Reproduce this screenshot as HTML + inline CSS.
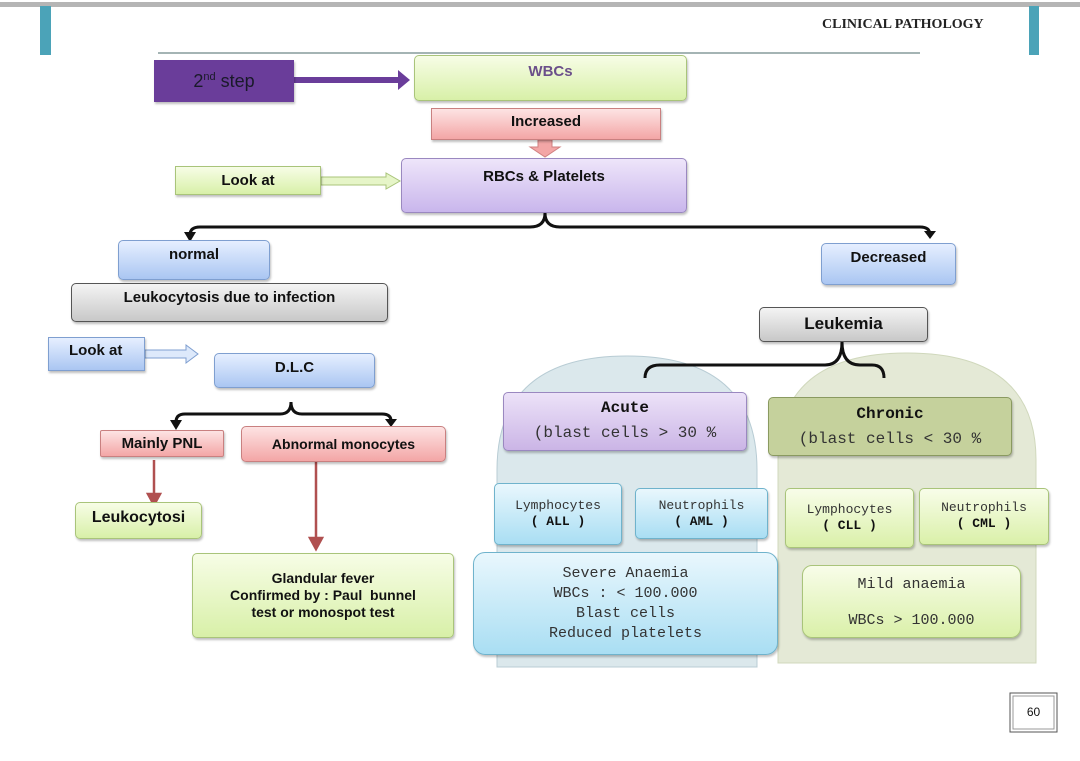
<!DOCTYPE html>
<html><head><meta charset="utf-8"><style>
body{margin:0;width:1080px;height:761px;background:#fff;position:relative;overflow:hidden;font-family:"Liberation Sans",sans-serif}
.b{position:absolute;box-sizing:border-box;border-radius:5px;text-align:center;font-weight:bold;font-size:15px;color:#111;box-shadow:1px 2px 2px rgba(0,0,0,.25)}
.m{font-family:"Liberation Mono",monospace;font-weight:normal;color:#333}
.g{background:linear-gradient(#f7fde6,#d8f0a8);border:1px solid #a9c47a}
.bl{background:linear-gradient(#e6efff,#aac6f2);border:1px solid #7f9fd0}
.pk{background:linear-gradient(#fde3e3,#f3a6a6);border:1px solid #c98080}
.gr{background:linear-gradient(#f4f4f4,#c8c8c8);border:1px solid #555}
.cy{background:linear-gradient(#e9f7fd,#a9def3);border:1px solid #6fb3cc}
.lg{background:linear-gradient(#f8fde9,#daf0a9);border:1px solid #a9c47a}
svg{position:absolute;left:0;top:0}
</style></head><body>
<svg width="1080" height="761">
<rect x="0" y="2" width="1080" height="5" fill="#b5b5b5"/>
<rect x="40" y="6" width="11" height="49" fill="#4ba3b8"/>
<rect x="1029" y="6" width="10" height="49" fill="#4ba3b8"/>
<line x1="158" y1="53" x2="920" y2="53" stroke="#4a6a6a" stroke-width="1"/>
<path d="M497,667 L497,470 Q497,356 627,356 Q757,356 757,470 L757,667 Z" fill="#dbe8ec" stroke="#b8ccd4"/>
<path d="M778,663 L778,460 Q778,353 907,353 Q1036,353 1036,460 L1036,663 Z" fill="#e4e9d6" stroke="#d0d8bc"/>
<path d="M294,80 L400,80" stroke="#6a3d9a" stroke-width="6"/>
<path d="M398,70 L410,80 L398,90 Z" fill="#6a3d9a"/>
<path d="M321,177 L386,177 L386,173 L400,181 L386,189 L386,185 L321,185 Z" fill="#e6f5c8" stroke="#a9c47a"/>
<path d="M538,140 L552,140 L552,147 L560,147 L545,157 L530,147 L538,147 Z" fill="#f3a6a6" stroke="#d08080"/>
<path d="M145,350 L186,350 L186,345 L198,354 L186,363 L186,358 L145,358 Z" fill="#dde9fb" stroke="#7f9fd0"/>
<g fill="none" stroke="#111" stroke-width="3">
<path d="M545,213 Q545,227 530,227 L200,227 Q190,227 190,235"/>
<path d="M545,213 Q545,227 560,227 L920,227 Q930,227 930,235"/>
<path d="M291,402 Q291,414 280,414 L185,414 Q176,414 176,422"/>
<path d="M291,402 Q291,414 302,414 L382,414 Q391,414 391,421"/>
<path d="M842,342 Q842,365 825,365 L660,365 Q645,365 645,378"/>
<path d="M842,342 Q842,365 860,365 L872,365 Q884,365 884,378"/>
</g>
<path d="M184,232 L190,242 L196,232 Z M924,231 L930,239 L936,231 Z M170,420 L176,430 L182,420 Z M385,419 L391,427 L397,419 Z" fill="#111"/>
<g stroke="#b05050" stroke-width="2.5" fill="#b05050">
<line x1="154" y1="460" x2="154" y2="498"/><path d="M148,494 L154,505 L160,494 Z"/>
<line x1="316" y1="462" x2="316" y2="542"/><path d="M310,538 L316,549 L322,538 Z"/>
</g>
<rect x="1010" y="693" width="47" height="39" fill="#fff" stroke="#555"/>
<rect x="1013" y="696" width="41" height="33" fill="none" stroke="#999"/>
</svg>
<div style="position:absolute;left:822px;top:17px;font:bold 14px 'Liberation Serif',serif;color:#222;white-space:nowrap">CLINICAL PATHOLOGY</div>
<div class="b" style="left:154px;top:60px;width:140px;height:42px;background:#6a3d9a;border-radius:0;font-weight:normal;font-size:18px;line-height:34px;color:#1a1a2a">2<sup style="font-size:11px">nd</sup> step</div>
<div class="b g" style="left:414px;top:55px;width:273px;height:46px;color:#6b4f8a;padding-top:7px">WBCs</div>
<div class="b pk" style="left:431px;top:108px;width:230px;height:32px;border-radius:0;line-height:26px">Increased</div>
<div class="b" style="left:401px;top:158px;width:286px;height:55px;background:linear-gradient(#eee5fa,#c9b6ec);border:1px solid #9a88c0;padding-top:9px">RBCs &amp; Platelets</div>
<div class="b g" style="left:175px;top:166px;width:146px;height:29px;border-radius:0;line-height:27px">Look at</div>
<div class="b bl" style="left:118px;top:240px;width:152px;height:40px;padding-top:5px">normal</div>
<div class="b gr" style="left:71px;top:283px;width:317px;height:39px;padding-top:5px">Leukocytosis due to infection</div>
<div class="b bl" style="left:821px;top:243px;width:135px;height:42px;line-height:28px">Decreased</div>
<div class="b gr" style="left:759px;top:307px;width:169px;height:35px;line-height:32px;font-size:17px">Leukemia</div>
<div class="b bl" style="left:48px;top:337px;width:97px;height:34px;border-radius:0;line-height:26px;text-align:left;padding-left:20px">Look at</div>
<div class="b bl" style="left:214px;top:353px;width:161px;height:35px;line-height:28px">D.L.C</div>
<div class="b pk" style="left:100px;top:430px;width:124px;height:27px;border-radius:2px;line-height:26px">Mainly PNL</div>
<div class="b pk" style="left:241px;top:426px;width:205px;height:36px;line-height:34px;font-size:14px">Abnormal monocytes</div>
<div class="b g" style="left:75px;top:502px;width:127px;height:37px;line-height:30px;font-size:16px">Leukocytosi</div>
<div class="b g" style="left:192px;top:553px;width:262px;height:85px;font-size:14px;padding-top:16px;line-height:17px">Glandular fever<br>Confirmed by : Paul&nbsp; bunnel<br>test or monospot test</div>
<div class="b m" style="left:503px;top:392px;width:244px;height:59px;background:linear-gradient(#ece2f8,#cbb5e6);border:1px solid #9a88c0;font-size:16px;line-height:25px;padding-top:3px"><b style="color:#111">Acute</b><br>(blast cells &gt; 30 %</div>
<div class="b m" style="left:768px;top:397px;width:244px;height:59px;background:#c5d19c;border:1px solid #8a9a60;font-size:16px;line-height:25px;padding-top:4px"><b style="color:#111">Chronic</b><br>(blast cells &lt; 30 %</div>
<div class="b cy m" style="left:494px;top:483px;width:128px;height:62px;font-size:13px;line-height:16px;padding-top:14px">Lymphocytes<br><b style="color:#111">( ALL )</b></div>
<div class="b cy m" style="left:635px;top:488px;width:133px;height:51px;font-size:13px;line-height:16px;padding-top:9px">Neutrophils<br><b style="color:#111">( AML )</b></div>
<div class="b cy m" style="left:473px;top:552px;width:305px;height:103px;font-size:15px;line-height:20px;padding-top:11px;border-radius:12px">Severe Anaemia<br>WBCs : &lt; 100.000<br>Blast cells<br>Reduced platelets</div>
<div class="b lg m" style="left:785px;top:488px;width:129px;height:60px;font-size:13px;line-height:16px;padding-top:13px">Lymphocytes<br><b style="color:#111">( CLL )</b></div>
<div class="b lg m" style="left:919px;top:488px;width:130px;height:57px;font-size:13px;line-height:16px;padding-top:11px">Neutrophils<br><b style="color:#111">( CML )</b></div>
<div class="b lg m" style="left:802px;top:565px;width:219px;height:73px;font-size:15px;line-height:36px;padding-top:1px;border-radius:10px">Mild anaemia<br>WBCs &gt; 100.000</div>
<div style="position:absolute;left:1010px;top:693px;width:47px;height:39px;line-height:39px;text-align:center;font-size:12px;color:#111">60</div>
</body></html>
